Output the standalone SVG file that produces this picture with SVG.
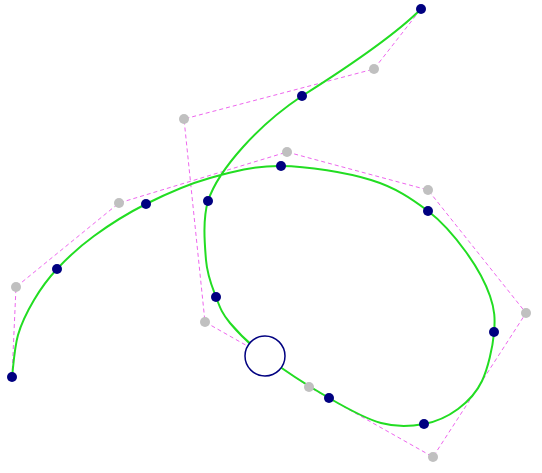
<svg xmlns="http://www.w3.org/2000/svg" width="542" height="473" viewBox="0 0 542 473">
<style>
.poly{fill:none;stroke:#ee66ee;stroke-width:1;stroke-dasharray:4 3}
.curve{fill:none;stroke:#22dd22;stroke-width:2}
.ctrl{fill:#c0c0c0}
.on{fill:#000080}
.sel{fill:#ffffff;stroke:#000080;stroke-width:1.5}
</style>
<rect width="542" height="473" fill="#ffffff"/>
<g id="connectors">
<polyline class="poly" points="12,377 16,287 119,203 287,152 428,190 526,313 433,457 309,387 265,356 205,322 184,119 374,69 421,9"/>
<path class="curve" d="M12,377 C13,370 14.3,347.8 18,335 C21.7,322.2 27.5,311 34,300 C40.5,289 47,279.7 57,269 C67,258.3 79.2,246.8 94,236 C108.8,225.2 126.7,213.7 146,204 C165.3,194.3 187.5,184.3 210,178 C232.5,171.7 254.2,165.7 281,166 C307.8,166.3 346.5,172.5 371,180 C395.5,187.5 412.2,199 428,211 C443.8,223 455.7,237.8 466,252 C476.3,266.2 485.3,282.5 490,296 C494.7,309.5 495.3,318.8 494,333 C492.7,347.2 488,368.3 482,381 C476,393.7 467.7,401.8 458,409 C448.3,416.2 436.8,421.7 424,424 C411.2,426.3 396.8,427.3 381,423 C365.2,418.7 348.3,409.2 329,398 C309.7,386.8 281.5,368.5 265,356 C248.5,343.5 238.2,332.8 230,323 C221.8,313.2 220,307.5 216,297 C212,286.5 207.3,276 206,260 C204.7,244 202.5,219.8 208,201 C214.2,182.2 227.3,164.5 243,147 C258.7,129.5 278,112 302,96 C340,72 395,35 421,9"/>
</g>
<g id="control-points">
<circle class="ctrl" cx="16" cy="287" r="5"/>
<circle class="ctrl" cx="119" cy="203" r="5"/>
<circle class="ctrl" cx="287" cy="152" r="5"/>
<circle class="ctrl" cx="428" cy="190" r="5"/>
<circle class="ctrl" cx="526" cy="313" r="5"/>
<circle class="ctrl" cx="433" cy="457" r="5"/>
<circle class="ctrl" cx="309" cy="387" r="5"/>
<circle class="ctrl" cx="205" cy="322" r="5"/>
<circle class="ctrl" cx="184" cy="119" r="5"/>
<circle class="ctrl" cx="374" cy="69" r="5"/>
</g>
<g id="curve-points">
<circle class="on" cx="12" cy="377" r="5"/>
<circle class="on" cx="57" cy="269" r="5"/>
<circle class="on" cx="146" cy="204" r="5"/>
<circle class="on" cx="281" cy="166" r="5"/>
<circle class="on" cx="428" cy="211" r="5"/>
<circle class="on" cx="494" cy="332" r="5"/>
<circle class="on" cx="424" cy="424" r="5"/>
<circle class="on" cx="329" cy="398" r="5"/>
<circle class="on" cx="216" cy="297" r="5"/>
<circle class="on" cx="208" cy="201" r="5"/>
<circle class="on" cx="302" cy="96" r="5"/>
<circle class="on" cx="421" cy="9" r="5"/>
</g>
<g id="selected-point">
<circle class="sel" cx="265" cy="356" r="20"/>
</g>
</svg>
